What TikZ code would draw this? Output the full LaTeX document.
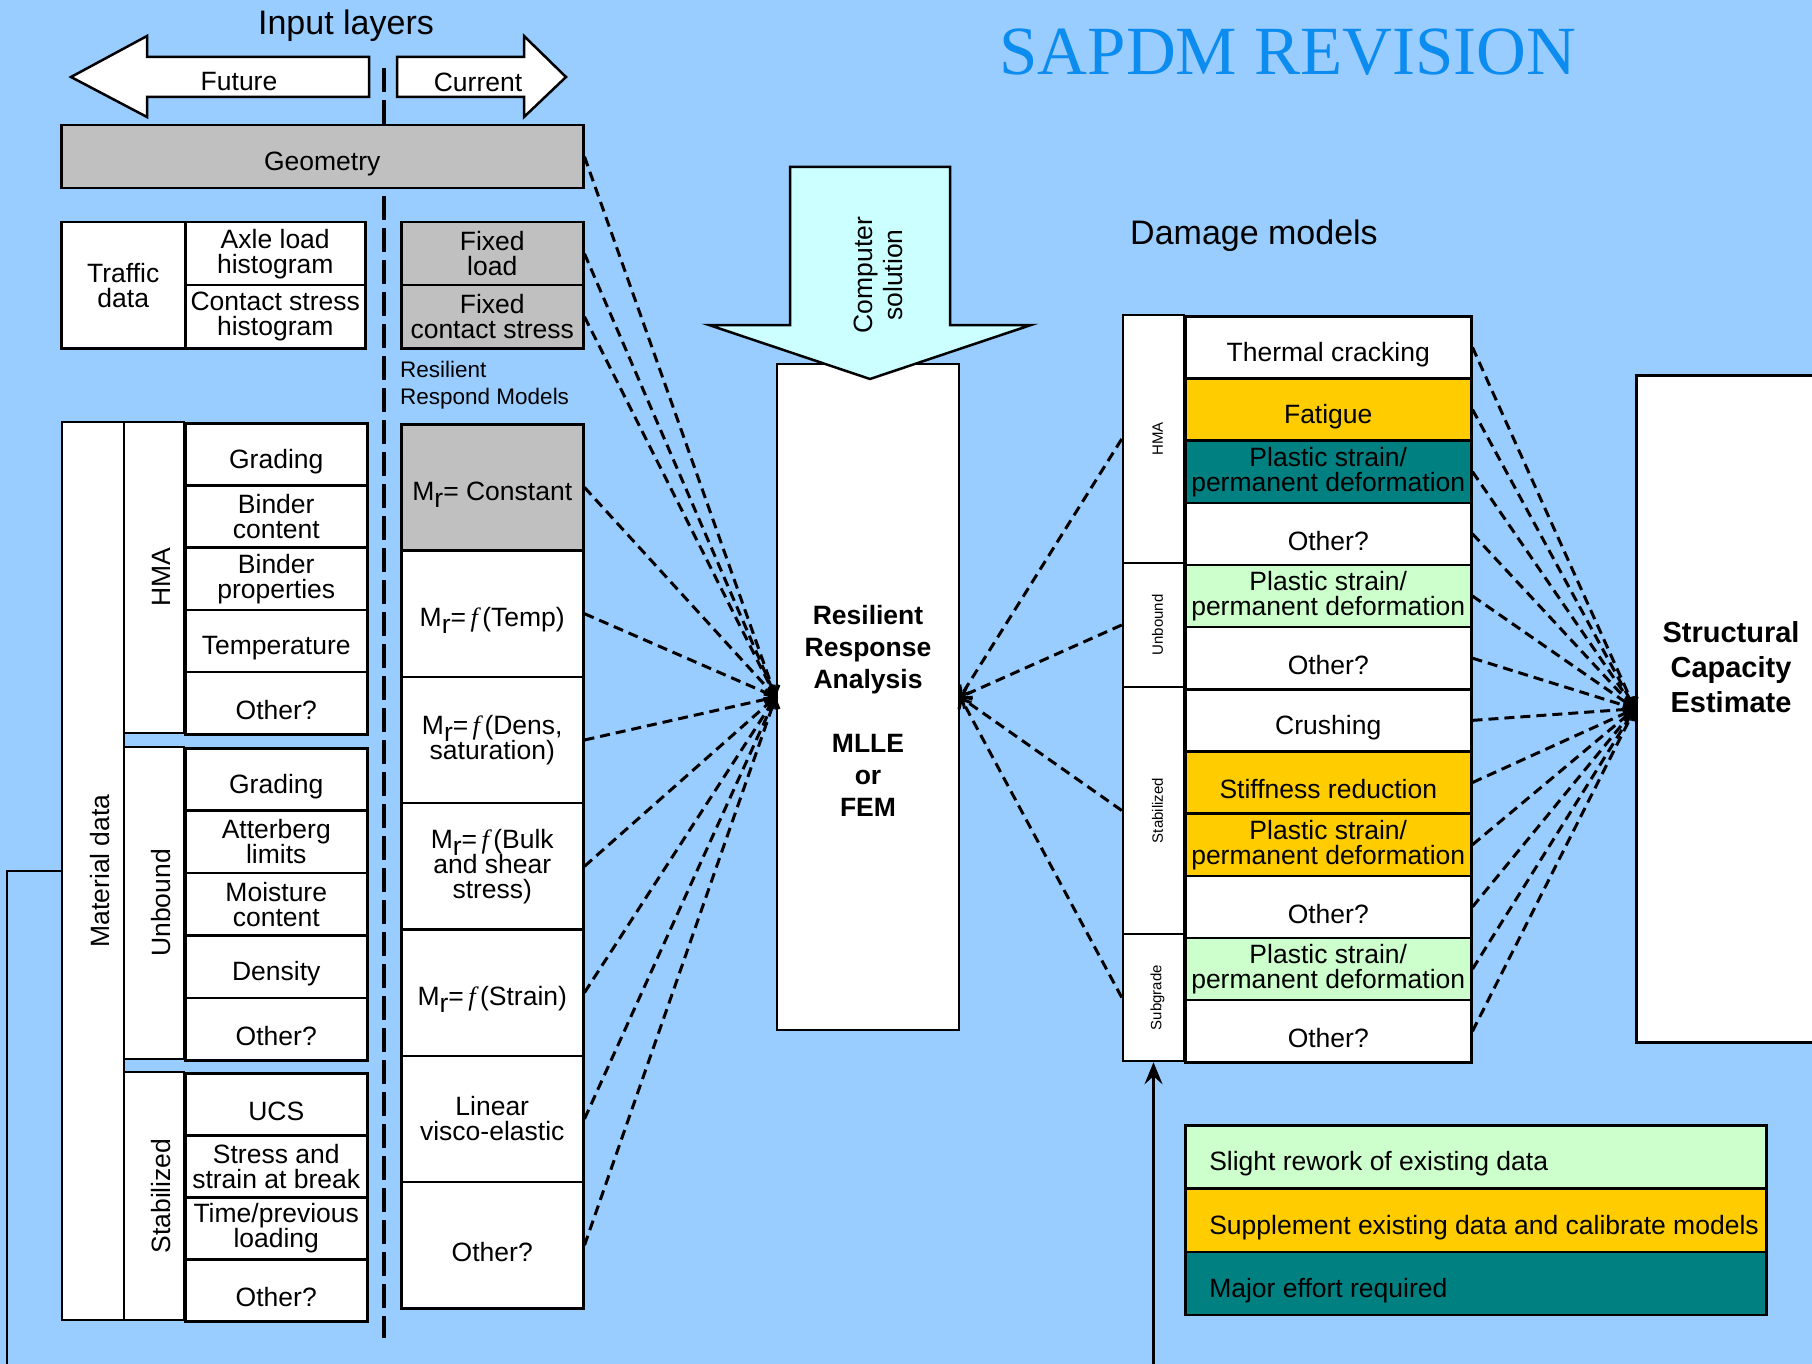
\documentclass[tikz,border=0pt]{standalone}
\usepackage{fontspec}
\setmainfont{Liberation Sans}
\newfontfamily\serifface{Liberation Serif}
\usepackage{tikz}
\usetikzlibrary{arrows.meta}

\definecolor{bgblue}{HTML}{99CCFF}
\definecolor{greybox}{HTML}{C0C0C0}
\definecolor{gold}{HTML}{FFCC00}
\definecolor{tealbox}{HTML}{008080}
\definecolor{mint}{HTML}{CCFFCC}
\definecolor{cyanbox}{HTML}{CCFFFF}
\definecolor{titleblue}{RGB}{12,140,238}

\newcommand{\mrsub}{M\raisebox{-7pt}{r}}
\newcommand{\ffun}{{\serifface\itshape f}}
\newcommand{\plastic}{Plastic strain/\\permanent deformation}

\tikzset{
  cell/.style={draw, line width=2.5pt, fill=white, inner sep=0pt, align=center,
    font=\fontsize{26.5}{25}\selectfont,
    execute at begin node={\lineskiplimit=-50pt\rule{0pt}{1.25em}}},
  sidelabel/.style={cell, rotate=90},
  dlabel/.style={sidelabel, minimum height=61pt, font=\fontsize{15}{15}\selectfont},
  link/.style={line width=3pt, dash pattern=on 10pt off 6pt, -{Straight Barb[length=8pt,width=14pt]}},
  feed/.style={line width=2.5pt, -{Stealth[length=22pt,width=18pt,inset=8pt]}}
}

\begin{document}
\begin{tikzpicture}[x=1pt, y=-1pt]
    \fill[bgblue] (0,0) rectangle (1812,1364);
    \useasboundingbox (0,0) rectangle (1812,1364);
    \clip (0,0) rectangle (1812,1364);

    \node[font=\serifface\fontsize{69}{69}\selectfont, text=titleblue] (title) at (1288,52) {SAPDM REVISION};
    \node[font=\fontsize{34}{34}\selectfont] (inputs) at (346,26) {Input layers};
    \node[font=\fontsize{34}{34}\selectfont] (damage) at (1254,236) {Damage models};

    \draw[line width=4pt, dash pattern=on 24pt off 8pt] (384,68) -- (384,1338);

    \draw[line width=2.5pt, fill=white] (369,57) -- (147,57) -- (147,36) -- (71,77) -- (147,117) -- (147,97) -- (369,97) -- cycle;
    \draw[line width=2.5pt, fill=white] (397,57) -- (524,57) -- (524,36) -- (566,77) -- (524,117) -- (524,97) -- (397,97) -- cycle;
    \node[font=\fontsize{26.5}{27}\selectfont] (future) at (239,82) {Future};
    \node[font=\fontsize{26.5}{27}\selectfont] (current) at (478,82) {Current};

    \node[cell, fill=greybox, anchor=north west, minimum width=522pt, minimum height=63pt] (geo) at (60,124) {Geometry};

    \node[cell, anchor=north west, minimum width=124pt, minimum height=126pt] (traffic) at (60,221) {Traffic\\data};
    \node[cell, anchor=north west, minimum width=180pt, minimum height=63pt] (axle) at (184,221) {Axle load\\histogram};
    \node[cell, anchor=north west, minimum width=180pt, minimum height=63pt] (contact) at (184,284) {Contact stress\\histogram};
    \node[cell, fill=greybox, anchor=north west, minimum width=182pt, minimum height=63pt] (fixload) at (400,221) {Fixed\\load};
    \node[cell, fill=greybox, anchor=north west, minimum width=182pt, minimum height=63pt] (fixstress) at (400,284) {Fixed\\contact stress};
    \node[anchor=north west, inner sep=0pt, align=left, font=\fontsize{22.5}{27}\selectfont] (rrmodels) at (400,361) {Resilient\\Respond Models};

    \node[sidelabel, minimum width=898pt, minimum height=62pt] (mat) at (93,871) {Material data};
    \node[sidelabel, minimum width=311pt, minimum height=60pt] (hmagrp) at (154,577.5) {HMA};
    \node[sidelabel, minimum width=312pt, minimum height=60pt] (ubgrp) at (154,903) {Unbound};
    \node[sidelabel, minimum width=248pt, minimum height=60pt] (stgrp) at (154,1196) {Stabilized};

    \foreach \txt [count=\i] in {Grading, {Binder\\content}, {Binder\\properties}, Temperature, Other?}
        \node[cell, anchor=north west, minimum width=182pt, minimum height=62.2pt] (hma\i) at (184,{422+(\i-1)*62.2}) {\txt};
    \foreach \txt [count=\i] in {Grading, {Atterberg\\limits}, {Moisture\\content}, Density, Other?}
        \node[cell, anchor=north west, minimum width=182pt, minimum height=62.4pt] (ub\i) at (184,{747+(\i-1)*62.4}) {\txt};
    \foreach \txt [count=\i] in {UCS, {Stress and\\strain at break}, {Time/previous\\loading}, Other?}
        \node[cell, anchor=north west, minimum width=182pt, minimum height=62pt] (st\i) at (184,{1072+(\i-1)*62}) {\txt};

    \foreach \clr/\txt [count=\i] in {greybox/{\mrsub= Constant}, white/{\mrsub=\,\ffun\,(Temp)}, white/{\mrsub=\,\ffun\,(Dens,\\saturation)}, white/{\mrsub=\,\ffun\,(Bulk\\and shear\\stress)}, white/{\mrsub=\,\ffun\,(Strain)}, white/{Linear\\visco-elastic}, white/{Other?}}
        \node[cell, fill=\clr, anchor=north west, minimum width=182pt, minimum height=126.3pt] (m\i) at (400,{423+(\i-1)*126.3}) {\txt};

    \node[cell, minimum width=182pt, minimum height=666pt, font=\bfseries\fontsize{26.5}{32}\selectfont] (rra) at (868,697) {\rule{0pt}{47pt}Resilient\\Response\\Analysis\\[32pt]MLLE\\or\\FEM};
    \draw[line width=2.5pt, fill=cyanbox] (790,167) -- (950,167) -- (950,325) -- (1031,325) -- (870,379) -- (709,325) -- (790,325) -- cycle;
    \node[rotate=90, align=center, font=\fontsize{26.5}{30}\selectfont] (compsol) at (878,275) {Computer\\solution};

    \node[dlabel, minimum width=248pt] (dhma) at (1153.5,439) {HMA};
    \node[dlabel, minimum width=124pt] (dub) at (1153.5,625) {Unbound};
    \node[dlabel, minimum width=247pt] (dstab) at (1153.5,810.5) {Stabilized};
    \node[dlabel, minimum width=127pt] (dsub) at (1153.5,997.5) {Subgrade};

    \foreach \clr/\txt [count=\i] in {white/{Thermal cracking}, gold/{Fatigue}, tealbox/{\plastic}, white/{Other?}, mint/{\plastic}, white/{Other?}, white/{Crushing}, gold/{Stiffness reduction}, gold/{\plastic}, white/{Other?}, mint/{\plastic}, white/{Other?}}
        \node[cell, fill=\clr, anchor=north west, minimum width=286pt, minimum height=62.17pt] (dm\i) at (1184,{315+(\i-1)*62.17}) {\txt};

    \node[cell, anchor=north west, minimum width=200pt, minimum height=667pt] (capbox) at (1635,374) {};
    \node[align=center, font=\bfseries\fontsize{29}{35}\selectfont] (captext) at (1731,667) {Structural\\Capacity\\Estimate};

    \foreach \clr/\txt [count=\i] in {mint/{Slight rework of existing data}, gold/{Supplement existing data and calibrate models}, tealbox/{Major effort required}}
        \node[cell, fill=\clr, anchor=north west, inner xsep=24pt, minimum height=63.3pt] (key\i) at (1184,{1124+(\i-1)*63.3}) {\makebox[533pt][l]{\txt}};

    \foreach \n in {geo,fixload,fixstress,m1,m2,m3,m4,m5,m6,m7} \draw[link] (\n.east) -- (rra.west);
    \foreach \n in {dhma,dub,dstab,dsub} \draw[link] (\n.north) -- (rra.east);
    \foreach \i in {1,...,12} \draw[link] (dm\i.east) -- (capbox.west);

    \draw[feed] (mat.north) -| (7,1400) -| (dsub.west);
\end{tikzpicture}
\end{document}
